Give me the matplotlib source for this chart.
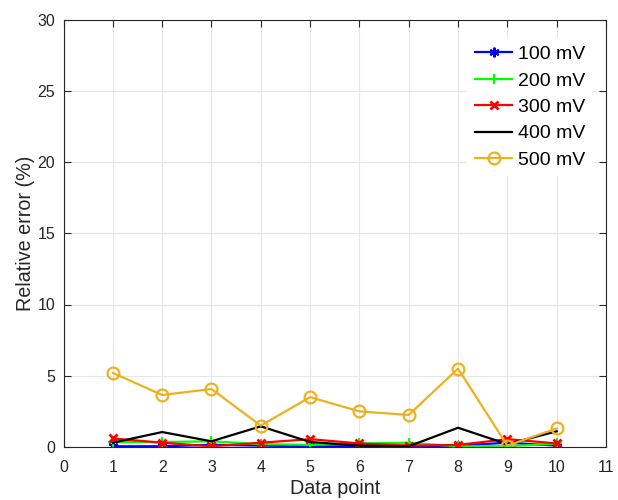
import numpy as np
import matplotlib
matplotlib.use("Agg")
from matplotlib import pyplot as plt

plt.rcParams["font.family"] = ["Liberation Sans", "DejaVu Sans"]

points = np.arange(1, 11)
err_100 = [0.05, 0.05, 0.15, 0.1, 0.05, 0.05, 0.05, 0.1, 0.3, 0.1]
err_200 = [0.35, 0.35, 0.4, 0.2, 0.15, 0.25, 0.3, 0.05, 0.05, 0.25]
err_300 = [0.6, 0.3, 0.05, 0.3, 0.55, 0.25, 0.1, 0.15, 0.55, 0.25]
err_400 = [0.3, 1.05, 0.4, 1.45, 0.35, 0.1, 0.05, 1.35, 0.2, 1.1]
err_500 = [5.2, 3.65, 4.07, 1.5, 3.5, 2.5, 2.25, 5.5, 0.1, 1.3]
labels = ["100 mV", "200 mV", "300 mV", "400 mV", "500 mV"]


def main():
    fig = plt.figure(figsize=(6.18, 5), dpi=100)
    ax = fig.add_axes([63.5 / 618, 53 / 500, 542.5 / 618, 427.5 / 500])

    asterisk = (6, 2, 0)
    ax.plot(points, err_100, color="#0000ff", lw=1.6, marker=asterisk, ms=7,
            mew=1.5, label=labels[0])
    ax.plot(points, err_200, color="#00ff00", lw=1.6, marker="+", ms=7,
            mew=1.5, label=labels[1])
    ax.plot(points, err_300, color="#ff0000", lw=1.6, marker="x", ms=6,
            mew=2, label=labels[2])
    ax.plot(points, err_400, color="black", lw=1.6, label=labels[3])
    ax.plot(points, err_500, color="#edb120", lw=1.6, marker="o", ms=8.5,
            mfc="none", mew=1.6, label=labels[4])

    ax.set_xlim(0, 11)
    ax.set_ylim(0, 30)
    ax.set_xticks(range(0, 12))
    ax.set_yticks(range(0, 31, 5))
    ax.grid(True, color="#e6e6e6", lw=0.8)
    ax.set_axisbelow(True)
    ax.tick_params(direction="in", top=True, right=True, labelsize=11.5,
                   length=5, width=0.8, colors="#262626")
    ax.tick_params(axis="x", pad=9)
    ax.tick_params(axis="y", pad=6)
    for s in ax.spines.values():
        s.set_color("#262626")
        s.set_linewidth(0.8)

    ax.set_xlabel("Data point", fontsize=14.2, color="#262626", labelpad=3)
    ax.set_ylabel("Relative error (%)", fontsize=14.2, color="#262626",
                  labelpad=2)

    leg = ax.legend(loc="upper right", fontsize=14, frameon=True,
                    fancybox=False, edgecolor="white", framealpha=1,
                    handlelength=1.9, handletextpad=0.3, labelspacing=0.45,
                    borderaxespad=0, bbox_to_anchor=(0.976, 0.957))
    leg.get_frame().set_linewidth(0)

    fig.savefig("out.png")


if __name__ == "__main__":
    main()
